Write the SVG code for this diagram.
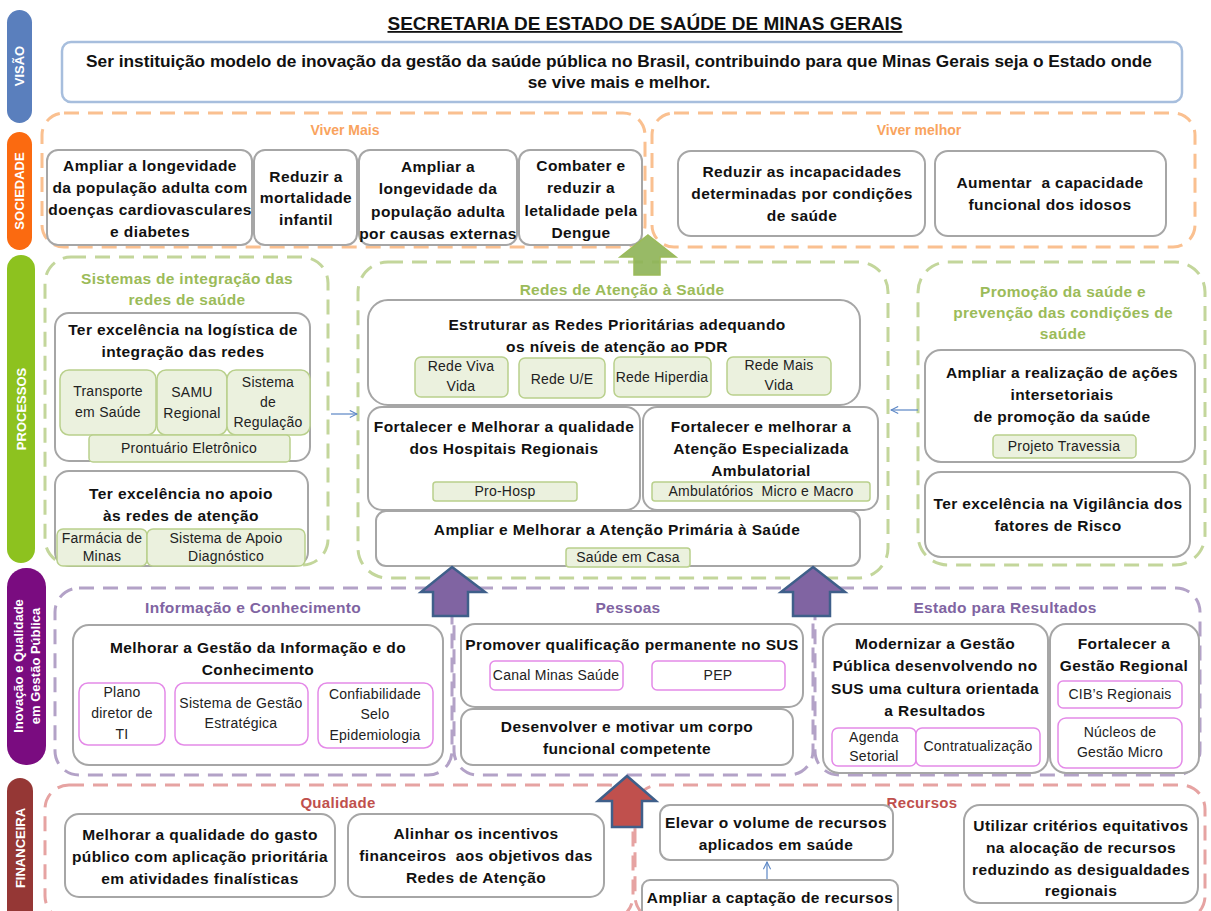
<svg xmlns="http://www.w3.org/2000/svg" width="1211" height="911" viewBox="0 0 1211 911">
<style>
text{font-family:"Liberation Sans",Arial,sans-serif;text-anchor:middle}
.t{font-weight:bold;font-size:15.5px;letter-spacing:0.4px;fill:#111}
.s{font-size:14px;letter-spacing:0.25px;fill:#222}
.band{font-weight:bold;font-size:13px;fill:#fff}
.b{fill:#fff;stroke:#A6A6A6;stroke-width:2}
.g{fill:#EBF1DE;stroke:#B9D08C;stroke-width:1.5}
.m{fill:#fff;stroke:#E48AE8;stroke-width:1.5}
.fo{fill:none;stroke:#FAC090;stroke-width:3;stroke-dasharray:15 9}
.fg{fill:none;stroke:#C3D69B;stroke-width:3;stroke-dasharray:15 9}
.fp{fill:none;stroke:#B3A2C7;stroke-width:3;stroke-dasharray:15 9}
.fr{fill:none;stroke:#E6A3A2;stroke-width:3;stroke-dasharray:15 9}
.ho{font-weight:bold;font-size:14px;fill:#F9A35E}
.hg{font-weight:bold;font-size:15.5px;letter-spacing:0.3px;fill:#9BBB59}
.hp{font-weight:bold;font-size:15.5px;letter-spacing:0.3px;fill:#8064A2}
.hr{font-weight:bold;font-size:15px;letter-spacing:0.3px;fill:#C0504D}
.conn{fill:none;stroke:#5B86C5;stroke-width:1.2}
</style>
<defs>
<marker id="oa" viewBox="0 0 10 10" refX="9" refY="5" markerWidth="9" markerHeight="9" orient="auto" markerUnits="userSpaceOnUse">
<path d="M1,1 L9,5 L1,9" fill="none" stroke="#5B86C5" stroke-width="1.2"/>
</marker>
</defs>

<!-- Title -->
<text x="645" y="30" font-size="18" font-weight="bold" fill="#111" text-decoration="underline" textLength="515" lengthAdjust="spacingAndGlyphs">SECRETARIA DE ESTADO DE SAÚDE DE MINAS GERAIS</text>

<!-- Perspective bands -->
<g id="band-visao"><rect x="7" y="10" width="25" height="113" rx="12.5" fill="#5A7FBD"/><text class="band" transform="translate(24,66) rotate(-90)">VISÃO</text></g>
<g id="band-sociedade"><rect x="7" y="132" width="25" height="118" rx="12.5" fill="#FB6A10"/><text class="band" transform="translate(24,191) rotate(-90)">SOCIEDADE</text></g>
<g id="band-processos"><rect x="7" y="255" width="28" height="308" rx="14" fill="#8DC21F"/><text class="band" transform="translate(26,409) rotate(-90)">PROCESSOS</text></g>
<g id="band-inovacao"><rect x="7" y="568" width="39" height="197" rx="19" fill="#7A0C80"/><text class="band" font-size="12.5" transform="translate(23,666) rotate(-90)">Inovação e Qualidade</text><text class="band" font-size="12.5" transform="translate(40,666) rotate(-90)">em Gestão Pública</text></g>
<g id="band-financeira"><rect x="7" y="778" width="26" height="150" rx="13" fill="#953735"/><text class="band" transform="translate(25,848) rotate(-90)">FINANCEIRA</text></g>

<!-- Vision -->
<g id="visao">
<rect x="62" y="42" width="1120" height="60" rx="9" fill="#fff" stroke="#A7BEDD" stroke-width="2.5"/>
<text class="t" style="font-size:17.3px;letter-spacing:0px" x="619" y="67">Ser instituição modelo de inovação da gestão da saúde pública no Brasil, contribuindo para que Minas Gerais seja o Estado onde</text>
<text class="t" style="font-size:17.3px;letter-spacing:0px" x="619" y="88">se vive mais e melhor.</text>
</g>

<!-- Frames -->
<g id="frames">
<rect id="f-vivermais" class="fo" x="42" y="113" width="603" height="134" rx="22"/>
<rect id="f-vivermelhor" class="fo" x="652" y="113" width="543" height="134" rx="22"/>
<rect id="f-sistemas" class="fg" x="45" y="257" width="283" height="308" rx="26"/>
<rect id="f-redes" class="fg" x="358" y="262" width="530" height="316" rx="30"/>
<rect id="f-promocao" class="fg" x="918" y="262" width="287" height="303" rx="30"/>
<rect id="f-informacao" class="fp" x="55" y="588" width="397" height="187" rx="24"/>
<rect id="f-pessoas" class="fp" x="454" y="588" width="359" height="187" rx="24"/>
<rect id="f-estado" class="fp" x="815" y="588" width="385" height="187" rx="24"/>
<rect id="f-qualidade" class="fr" x="45" y="785" width="588" height="135" rx="24"/>
<rect id="f-recursos" class="fr" x="635" y="785" width="570" height="135" rx="24"/>
</g>

<!-- Frame titles -->
<text class="ho" x="345" y="135">Viver Mais</text>
<text class="ho" x="919" y="135">Viver melhor</text>
<text class="hg" x="187" y="284">Sistemas de integração das</text>
<text class="hg" x="187" y="305">redes de saúde</text>
<text class="hg" x="622" y="295">Redes de Atenção à Saúde</text>
<text class="hg" x="1063" y="297">Promoção da saúde e</text>
<text class="hg" x="1063" y="318">prevenção das condições de</text>
<text class="hg" x="1063" y="339">saúde</text>
<text class="hp" x="253" y="613">Informação e Conhecimento</text>
<text class="hp" x="628" y="613">Pessoas</text>
<text class="hp" x="1005" y="613">Estado para Resultados</text>
<text class="hr" x="338" y="808">Qualidade</text>
<text class="hr" x="922" y="808">Recursos</text>

<!-- Sociedade -->
<g id="n-longevidade-cardio"><rect class="b" x="47" y="150" width="205" height="95" rx="11"/>
<text class="t" x="150" y="171">Ampliar a longevidade</text><text class="t" x="150" y="193">da população adulta com</text><text class="t" x="150" y="215">doenças cardiovasculares</text><text class="t" x="150" y="237">e diabetes</text></g>
<g id="n-mortalidade"><rect class="b" x="254" y="150" width="103" height="95" rx="11"/>
<text class="t" x="306" y="182">Reduzir a</text><text class="t" x="306" y="203">mortalidade</text><text class="t" x="306" y="225">infantil</text></g>
<g id="n-longevidade-externas"><rect class="b" x="359" y="150" width="158" height="95" rx="11"/>
<text class="t" x="438" y="172">Ampliar a</text><text class="t" x="438" y="194">longevidade da</text><text class="t" x="438" y="217">população adulta</text><text class="t" x="438" y="239">por causas externas</text></g>
<g id="n-dengue"><rect class="b" x="519" y="150" width="123" height="95" rx="11"/>
<text class="t" x="581" y="171">Combater e</text><text class="t" x="581" y="193">reduzir a</text><text class="t" x="581" y="216">letalidade pela</text><text class="t" x="581" y="238">Dengue</text></g>
<g id="n-incapacidades"><rect class="b" x="678" y="151" width="247" height="85" rx="13"/>
<text class="t" x="802" y="177">Reduzir as incapacidades</text><text class="t" x="802" y="199">determinadas por condições</text><text class="t" x="802" y="221">de saúde</text></g>
<g id="n-idosos"><rect class="b" x="935" y="151" width="231" height="85" rx="13"/>
<text class="t" x="1050" y="188" xml:space="preserve">Aumentar  a capacidade</text><text class="t" x="1050" y="210">funcional dos idosos</text></g>

<!-- Sistemas de integração -->
<g id="n-logistica"><rect class="b" x="55" y="313" width="255" height="148" rx="14"/>
<text class="t" x="183" y="335">Ter excelência na logística de</text><text class="t" x="183" y="357">integração das redes</text>
<rect class="g" x="60" y="370" width="96" height="65" rx="9"/><text class="s" x="108" y="396">Transporte</text><text class="s" x="108" y="417">em Saúde</text>
<rect class="g" x="157" y="370" width="70" height="65" rx="9"/><text class="s" x="192" y="397">SAMU</text><text class="s" x="192" y="418">Regional</text>
<rect class="g" x="227" y="370" width="83" height="65" rx="9"/><text class="s" x="268" y="387">Sistema</text><text class="s" x="268" y="407">de</text><text class="s" x="268" y="427">Regulação</text>
<rect class="g" x="89" y="435" width="201" height="27" rx="4"/><text class="s" x="189" y="453">Prontuário Eletrônico</text></g>
<g id="n-apoio"><rect class="b" x="55" y="471" width="253" height="95" rx="14"/>
<text class="t" x="181" y="499">Ter excelência no apoio</text><text class="t" x="181" y="521">às redes de atenção</text>
<rect class="g" x="57" y="529" width="90" height="37" rx="6"/><text class="s" x="102" y="543">Farmácia de</text><text class="s" x="102" y="561">Minas</text>
<rect class="g" x="147" y="529" width="158" height="37" rx="6"/><text class="s" x="226" y="543">Sistema de Apoio</text><text class="s" x="226" y="561">Diagnóstico</text></g>

<!-- Redes de Atenção -->
<g id="n-estruturar"><rect class="b" x="368" y="300" width="492" height="105" rx="20"/>
<text class="t" x="617" y="330">Estruturar as Redes Prioritárias adequando</text><text class="t" x="617" y="352">os níveis de atenção ao PDR</text>
<rect class="g" x="415" y="357" width="93" height="40" rx="6"/><text class="s" x="461" y="371">Rede Viva</text><text class="s" x="461" y="391">Vida</text>
<rect class="g" x="519" y="358" width="86" height="40" rx="6"/><text class="s" x="562" y="384">Rede U/E</text>
<rect class="g" x="614" y="357" width="97" height="40" rx="6"/><text class="s" x="662" y="382">Rede Hiperdia</text>
<rect class="g" x="727" y="357" width="104" height="38" rx="6"/><text class="s" x="779" y="370">Rede Mais</text><text class="s" x="779" y="390">Vida</text></g>
<g id="n-hospitais"><rect class="b" x="368" y="407" width="272" height="103" rx="14"/>
<text class="t" x="504" y="432">Fortalecer e Melhorar a qualidade</text><text class="t" x="504" y="454">dos Hospitais Regionais</text>
<rect class="g" x="433" y="482" width="144" height="19" rx="3"/><text class="s" x="505" y="496">Pro-Hosp</text></g>
<g id="n-especializada"><rect class="b" x="643" y="407" width="235" height="103" rx="14"/>
<text class="t" x="761" y="432">Fortalecer e melhorar a</text><text class="t" x="761" y="454">Atenção Especializada</text><text class="t" x="761" y="476">Ambulatorial</text>
<rect class="g" x="652" y="482" width="218" height="19" rx="3"/><text class="s" x="761" y="496" xml:space="preserve">Ambulatórios  Micro e Macro</text></g>
<g id="n-primaria"><rect class="b" x="376" y="511" width="484" height="55" rx="10"/>
<text class="t" x="617" y="535">Ampliar e Melhorar a Atenção Primária à Saúde</text>
<rect class="g" x="566" y="548" width="124" height="19" rx="3"/><text class="s" x="628" y="562">Saúde em Casa</text></g>

<!-- Promoção -->
<g id="n-intersetoriais"><rect class="b" x="925" y="350" width="270" height="112" rx="16"/>
<text class="t" x="1062" y="378">Ampliar a realização de ações</text><text class="t" x="1062" y="400">intersetoriais</text><text class="t" x="1062" y="422">de promoção da saúde</text>
<rect class="g" x="993" y="435" width="143" height="23" rx="4"/><text class="s" x="1064" y="451">Projeto Travessia</text></g>
<g id="n-vigilancia"><rect class="b" x="925" y="472" width="265" height="85" rx="16"/>
<text class="t" x="1058" y="509">Ter excelência na Vigilância dos</text><text class="t" x="1058" y="531">fatores de Risco</text></g>

<!-- Informação e Conhecimento -->
<g id="n-informacao"><rect class="b" x="73" y="625" width="370" height="140" rx="16"/>
<text class="t" x="258" y="653">Melhorar a Gestão da Informação e do</text><text class="t" x="258" y="675">Conhecimento</text>
<rect class="m" x="79" y="683" width="86" height="62" rx="9"/><text class="s" x="122" y="697">Plano</text><text class="s" x="122" y="718">diretor de</text><text class="s" x="122" y="739">TI</text>
<rect class="m" x="175" y="683" width="133" height="62" rx="9"/><text class="s" x="241" y="708">Sistema de Gestão</text><text class="s" x="241" y="728">Estratégica</text>
<rect class="m" x="318" y="683" width="115" height="65" rx="9"/><text class="s" x="375" y="699">Confiabilidade</text><text class="s" x="375" y="719">Selo</text><text class="s" x="375" y="740">Epidemiologia</text></g>

<!-- Pessoas -->
<g id="n-qualificacao"><rect class="b" x="461" y="624" width="342" height="83" rx="14"/>
<text class="t" x="632" y="650">Promover qualificação permanente no SUS</text>
<rect class="m" x="490" y="661" width="133" height="29" rx="5"/><text class="s" x="556" y="680">Canal Minas Saúde</text>
<rect class="m" x="652" y="661" width="133" height="29" rx="5"/><text class="s" x="718" y="680">PEP</text></g>
<g id="n-corpo"><rect class="b" x="461" y="709" width="332" height="56" rx="12"/>
<text class="t" x="627" y="732">Desenvolver e motivar um corpo</text><text class="t" x="627" y="754">funcional competente</text></g>

<!-- Estado para Resultados -->
<g id="n-modernizar"><rect class="b" x="823" y="624" width="225" height="149" rx="16"/>
<text class="t" x="935" y="649">Modernizar a Gestão</text><text class="t" x="935" y="671">Pública desenvolvendo no</text><text class="t" x="935" y="694">SUS uma cultura orientada</text><text class="t" x="935" y="716">a Resultados</text>
<rect class="m" x="832" y="728" width="84" height="38" rx="6"/><text class="s" x="874" y="742">Agenda</text><text class="s" x="874" y="761">Setorial</text>
<rect class="m" x="916" y="728" width="124" height="38" rx="6"/><text class="s" x="978" y="751">Contratualização</text></g>
<g id="n-regional"><rect class="b" x="1050" y="624" width="149" height="149" rx="16"/>
<text class="t" x="1124" y="649">Fortalecer a</text><text class="t" x="1124" y="671">Gestão Regional</text>
<rect class="m" x="1058" y="681" width="124" height="27" rx="5"/><text class="s" x="1120" y="699">CIB’s Regionais</text>
<rect class="m" x="1058" y="718" width="124" height="50" rx="8"/><text class="s" x="1120" y="737">Núcleos de</text><text class="s" x="1120" y="757">Gestão Micro</text></g>

<!-- Financeira -->
<g id="n-gasto"><rect class="b" x="65" y="814" width="270" height="83" rx="14"/>
<text class="t" x="200" y="840">Melhorar a qualidade do gasto</text><text class="t" x="200" y="862">público com aplicação prioritária</text><text class="t" x="200" y="884">em atividades finalísticas</text></g>
<g id="n-incentivos"><rect class="b" x="348" y="814" width="256" height="83" rx="14"/>
<text class="t" x="476" y="839">Alinhar os incentivos</text><text class="t" x="476" y="861" xml:space="preserve">financeiros  aos objetivos das</text><text class="t" x="476" y="883">Redes de Atenção</text></g>
<g id="n-elevar"><rect class="b" x="660" y="805" width="233" height="55" rx="10"/>
<text class="t" x="776" y="828">Elevar o volume de recursos</text><text class="t" x="776" y="850">aplicados em saúde</text></g>
<g id="n-captacao"><rect class="b" x="642" y="880" width="256" height="40" rx="8"/>
<text class="t" x="770" y="903">Ampliar a captação de recursos</text></g>
<g id="n-equitativos"><rect class="b" x="964" y="805" width="234" height="98" rx="16"/>
<text class="t" x="1081" y="831">Utilizar critérios equitativos</text><text class="t" x="1081" y="853">na alocação de recursos</text><text class="t" x="1081" y="875">reduzindo as desigualdades</text><text class="t" x="1081" y="896">regionais</text></g>

<!-- Connectors -->
<g id="connectors">
<line class="conn" x1="331" y1="414" x2="357" y2="414" marker-end="url(#oa)"/>
<line class="conn" x1="918" y1="410" x2="891" y2="410" marker-end="url(#oa)"/>
<line class="conn" x1="767" y1="879" x2="767" y2="862" marker-end="url(#oa)"/>
<path d="M648,235 L676,257 L660,257 L660,275 L634,275 L634,257 L620,257 Z" fill="#8DB255" fill-opacity="0.9" stroke="#9BBB59" stroke-width="1.5"/>
<path d="M452,567 L485,592 L468,592 L468,616 L433,616 L433,592 L421,592 Z" fill="#8064A2" stroke="#3F5F8A" stroke-width="2.5" stroke-linejoin="miter"/>
<path d="M813,567 L845,592 L830,592 L830,616 L793,616 L793,592 L781,592 Z" fill="#8064A2" stroke="#3F5F8A" stroke-width="2.5"/>
<path d="M627,776 L656,801 L642,801 L642,827 L612,827 L612,801 L598,801 Z" fill="#C0504D" stroke="#3F5F8A" stroke-width="2.5"/>
</g>
</svg>
